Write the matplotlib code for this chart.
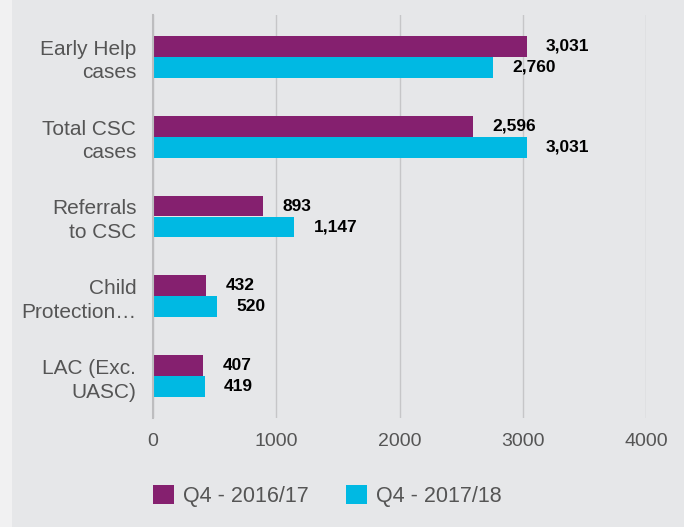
import matplotlib.pyplot as plt
import matplotlib.patches as patches
import numpy as np

categories = ["Early Help\ncases", "Total CSC\ncases", "Referrals\nto CSC",
              "Child\nProtection…", "LAC (Exc.\nUASC)"]
q4_2016 = [3031, 2596, 893, 432, 407]
q4_2017 = [2760, 3031, 1147, 520, 419]
series_names = ["Q4 - 2016/17", "Q4 - 2017/18"]
xticks = [0, 1000, 2000, 3000, 4000]

purple = "#85206f"
cyan = "#00b9e3"
bg = "#e6e7e9"

plt.rcParams['font.family'] = ['Liberation Sans', 'DejaVu Sans']

fig = plt.figure(figsize=(6.84, 5.27), dpi=100, facecolor=bg)
# lighter strip on far left
fig.patches.append(patches.Rectangle((0, 0), 12 / 684, 1, transform=fig.transFigure,
                                     facecolor="#f1f1f2", edgecolor="none", zorder=0))
ax = fig.add_axes([153 / 684, 1 - 418 / 527, (646 - 153) / 684, (418 - 15) / 527])
ax.set_facecolor(bg)

y = np.arange(len(categories))
h = 0.2625
ax.barh(y - h / 2, q4_2016, height=h, color=purple, label=series_names[0], zorder=3)
ax.barh(y + h / 2, q4_2017, height=h, color=cyan, label=series_names[1], zorder=3)

for yi, v in zip(y - h / 2, q4_2016):
    ax.annotate(f"{v:,}", (v, yi), xytext=(14, 0), textcoords="offset points",
                va="center", ha="left", fontsize=12.5, fontweight="bold", color="black")
for yi, v in zip(y + h / 2, q4_2017):
    ax.annotate(f"{v:,}", (v, yi), xytext=(14, 0), textcoords="offset points",
                va="center", ha="left", fontsize=12.5, fontweight="bold", color="black")

ax.set_xlim(0, 4000)
ax.set_ylim(4.52, -0.52)
ax.set_xticks(xticks)
ax.set_xticklabels([str(t) for t in xticks])
ax.set_yticks(y)
ax.set_yticklabels(categories, linespacing=1.3)
ax.tick_params(axis="y", length=0, pad=12, labelsize=15, labelcolor="#555555")
ax.tick_params(axis="x", length=0, pad=11, labelsize=14, labelcolor="#555555")
ax.grid(axis="x", color="#c6c6c8", linewidth=1, zorder=0)
for s in ["top", "right", "bottom"]:
    ax.spines[s].set_visible(False)
ax.spines["left"].set_color("#bdbdbf")
ax.spines["left"].set_linewidth(1.5)
ax.spines["left"].set_zorder(4)

fig.legend(loc="center left", bbox_to_anchor=(138 / 684, 1 - 496 / 527), ncol=2,
           frameon=False, fontsize=15.5, handlelength=0.97, handleheight=0.97,
           handletextpad=0.42, columnspacing=1.72, labelcolor="#555555",
           borderpad=0.2)

fig.savefig("out.png", dpi=100, facecolor=bg)
